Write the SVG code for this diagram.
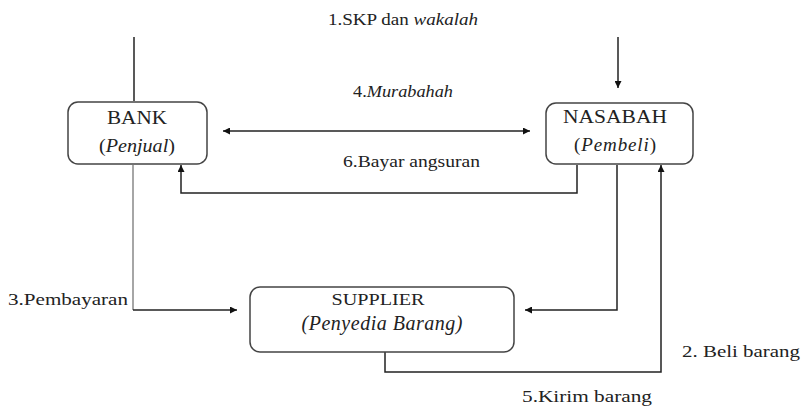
<svg xmlns="http://www.w3.org/2000/svg" width="803" height="407" viewBox="0 0 803 407">
<style>
text{font-family:"Liberation Serif","DejaVu Serif",serif;fill:#222}
.n{font-size:19px}
.l{font-size:17px}
.it{font-style:italic}
.box{fill:#fff;stroke:#444;stroke-width:1.5}
.c{fill:none;stroke:#222;stroke-width:1.5}
.g{fill:none;stroke:#888;stroke-width:1.5}
</style>
<defs>
<marker id="ah" viewBox="0 0 10 10" refX="10" refY="5" markerWidth="7" markerHeight="7" orient="auto-start-reverse" markerUnits="userSpaceOnUse"><path d="M0,0 L10,5 L0,10 z" fill="#111"/></marker>
</defs>
<rect width="803" height="407" fill="#fff"/>
<g id="connectors">
<line class="c" x1="134" y1="37" x2="134" y2="101"/>
<line class="c" x1="618" y1="37" x2="618" y2="88" marker-end="url(#ah)"/>
<line class="c" x1="223" y1="131" x2="530" y2="131" marker-start="url(#ah)" marker-end="url(#ah)"/>
<polyline class="c" points="577,165 577,193 181,193 181,165" marker-end="url(#ah)"/>
<line class="g" x1="133" y1="165" x2="133" y2="310"/>
<line class="c" x1="133" y1="310" x2="237" y2="310" marker-end="url(#ah)"/>
<polyline class="c" points="617,165 617,310 525,310" marker-end="url(#ah)"/>
<polyline class="c" points="385,352 385,372 661,372 661,165" marker-end="url(#ah)"/>
</g>
<g id="labels">
<text class="l" x="328" y="25" textLength="150" lengthAdjust="spacingAndGlyphs">1.SKP dan <tspan class="it">wakalah</tspan></text>
<text class="l" x="353" y="97" textLength="100" lengthAdjust="spacingAndGlyphs">4.<tspan class="it">Murabahah</tspan></text>
<text class="l" x="343" y="167" textLength="137" lengthAdjust="spacingAndGlyphs">6.Bayar angsuran</text>
<text class="l" x="8" y="305" textLength="120" lengthAdjust="spacingAndGlyphs">3.Pembayaran</text>
<text class="l" x="682" y="357" textLength="118" lengthAdjust="spacingAndGlyphs">2. Beli barang</text>
<text class="l" x="522" y="402" textLength="130" lengthAdjust="spacingAndGlyphs">5.Kirim barang</text>
</g>
<g id="bank">
<rect class="box" x="68" y="102" width="139" height="62" rx="10"/>
<text class="n" x="137" y="124" text-anchor="middle" textLength="60" lengthAdjust="spacingAndGlyphs">BANK</text>
<text class="n" x="137" y="152" text-anchor="middle" textLength="76" lengthAdjust="spacingAndGlyphs">(<tspan class="it">Penjual</tspan>)</text>
</g>
<g id="nasabah">
<rect class="box" x="546" y="103" width="147" height="61" rx="10"/>
<text class="n" x="615" y="123" text-anchor="middle" textLength="104" lengthAdjust="spacingAndGlyphs">NASABAH</text>
<text class="n" x="615" y="151" text-anchor="middle" textLength="82">(<tspan class="it">Pembeli</tspan>)</text>
</g>
<g id="supplier">
<rect class="box" x="250" y="287" width="264" height="65" rx="10"/>
<text x="378" y="305" text-anchor="middle" textLength="93" lengthAdjust="spacingAndGlyphs" style="font-size:17px">SUPPLIER</text>
<text class="n it" x="382" y="330" text-anchor="middle" textLength="161" style="font-size:20px">(Penyedia Barang)</text>
</g>
</svg>
